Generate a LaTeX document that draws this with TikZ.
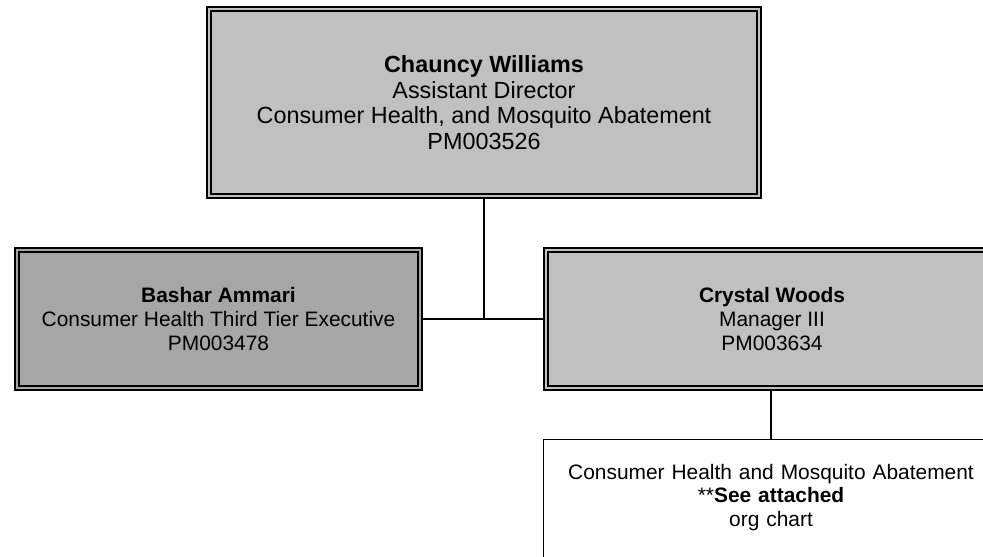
\documentclass[tikz,border=0pt]{standalone}
\usepackage{fontspec}
\setmainfont{Liberation Sans}
\definecolor{silverbox}{RGB}{192,192,192}
\definecolor{darkbox}{RGB}{166,166,166}
\tikzset{
  postbox/.style={draw=black,fill=#1,double=#1,line width=1pt,double distance=1.4pt,
    outer sep=1.7pt,inner sep=0pt,align=center},
  orgbox/.style={draw=black,fill=white,line width=0.8pt,inner sep=0pt,text width=9.1cm,
    align=center,anchor=north,text height=0.79cm,text depth=3cm,
    font=\fontsize{11.9}{13.4}\selectfont},
  topfont/.style={font=\fontsize{13.3}{14.6}\selectfont},
  lowfont/.style={font=\fontsize{11.9}{13.9}\selectfont},
  link/.style={line width=1pt}
}

\begin{document}
\begin{tikzpicture}[x=0.02cm,y=-0.02cm]
\path[use as bounding box] (0,0) rectangle (983,557);
\clip (0,0) rectangle (983,557);
% head of the unit
\node[postbox=silverbox,topfont,minimum width=11cm,minimum height=3.74cm] (chauncy) at (484,102.5)
  {\textbf{Chauncy Williams}\\ Assistant Director\\ Consumer Health, and Mosquito Abatement\\ PM003526};
% second row
\node[postbox=darkbox,lowfont,minimum width=8.06cm,minimum height=2.76cm] (bashar) at (218.5,319)
  {\textbf{Bashar Ammari}\\ Consumer Health Third Tier Executive\\ PM003478};
\node[postbox=silverbox,lowfont,minimum width=9.04cm,minimum height=2.76cm] (crystal) at (772,319)
  {\textbf{Crystal Woods}\\ Manager III\\ PM003634};
% attached chart
\node[orgbox] (program) at (771,439)
  {Consumer Health and Mosquito Abatement\\ {**}\textbf{See attached}\\ org chart};
\draw[link] (chauncy.south) -- (chauncy.south |- bashar.east);
\draw[link] (bashar.east) -- (crystal.west);
\draw[link] (crystal.south -| program.north) -- (program.north);
\end{tikzpicture}
\end{document}
